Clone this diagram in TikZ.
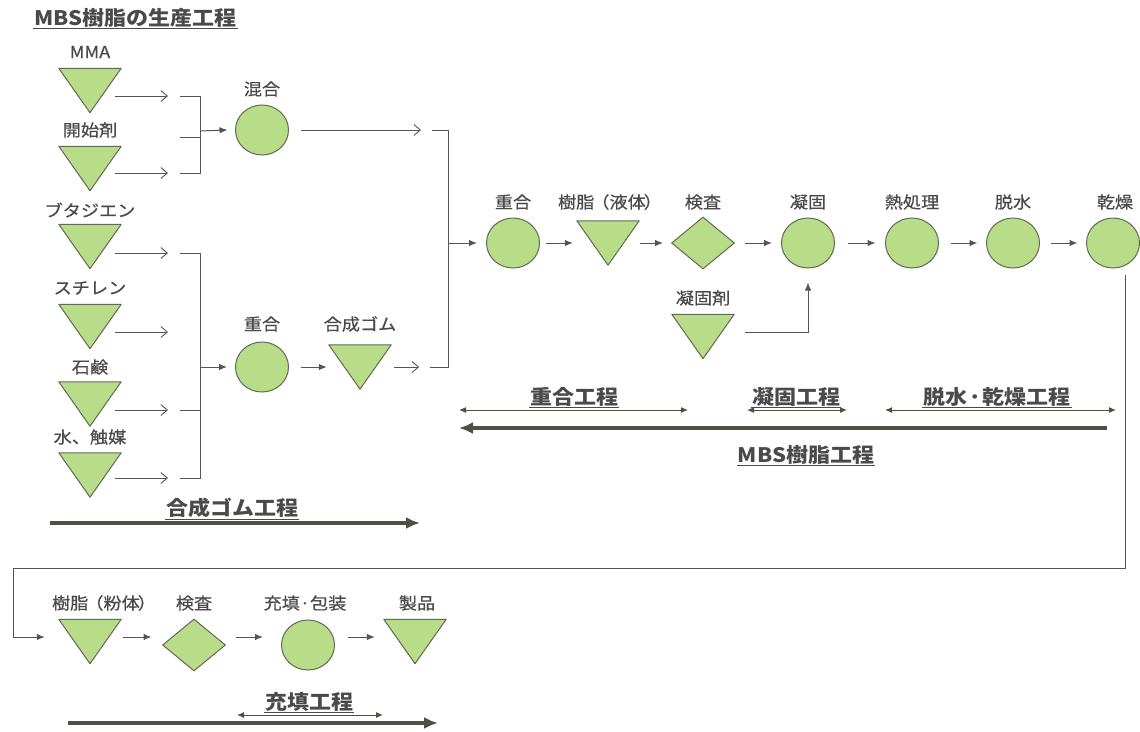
\documentclass[tikz,border=0pt]{standalone}
\usepackage{fontspec}
\setmainfont{Noto Sans CJK JP}[FakeStretch=1.1]
\newfontfamily\lblfont{Noto Sans CJK JP}[FakeStretch=1.1,FakeBold=0.6]
\usetikzlibrary{arrows.meta,shapes.geometric,calc}

\definecolor{fillg}{HTML}{B8DC88}
\definecolor{edgeg}{HTML}{5E6B55}
\definecolor{txt}{HTML}{4A4A4A}
\definecolor{ln}{HTML}{555555}
\definecolor{thickc}{HTML}{4B5243}

\begin{document}
\begin{tikzpicture}[x=1pt,y=-1pt,
 lbl/.style={font=\lblfont\fontsize{16.5}{18}\selectfont, text=txt, inner sep=0pt},
 proc/.style={font=\fontsize{20}{22}\selectfont\bfseries, text=txt, inner sep=1pt,
   append after command={(\tikzlastnode.south west) edge[draw=txt,line width=1.1pt] (\tikzlastnode.south east)}},
 circ/.style={ellipse, draw=edgeg, fill=fillg, line width=1pt, minimum width=53pt, minimum height=50pt, inner sep=0pt},
 dia/.style={diamond, draw=edgeg, fill=fillg, line width=1pt, minimum width=63pt, minimum height=52pt, inner sep=0pt},
 trib/.style={rectangle, minimum width=62pt, minimum height=44pt, inner sep=0pt},
 trishape/.style={draw=edgeg, fill=fillg, line width=1pt, line join=round},
 openarr/.style={draw=ln, line width=0.9pt, -{Straight Barb[length=6.5pt,width=11pt,line width=0.9pt]}},
 solidarr/.style={draw=ln, line width=1pt, -{Latex[length=8pt,width=6.5pt]}},
 plain/.style={draw=ln, line width=0.9pt},
 dbl/.style={draw=thickc, line width=1pt, {Latex[length=7pt,width=6pt]}-{Latex[length=7pt,width=6pt]}},
 fat/.style={draw=thickc, line width=3.5pt, -{Latex[length=14pt,width=12pt]}},
]
\useasboundingbox (0,0) rectangle (1140,731);

% title
\node[proc, anchor=west] (title) at (33,18) {MBS樹脂の生産工程};

% left column
\node[trib] (t1) at (90,90.5) {};  \node[lbl] (l1) at (90,52) {MMA};
\node[trib] (t2) at (90,168.5) {}; \node[lbl] (l2) at (90,130) {開始剤};
\node[trib] (t3) at (90,246.5) {}; \node[lbl] (l3) at (90,210) {ブタジエン};
\node[trib] (t4) at (90,326.5) {}; \node[lbl] (l4) at (90,288) {スチレン};
\node[trib] (t5) at (90,404) {};   \node[lbl] (l5) at (90,367) {石鹸};
\node[trib] (t6) at (90,475) {};   \node[lbl] (l6) at (90,437) {水、触媒};

\draw[openarr] ([shift={(25,5.5)}]t1.center) -- ++(53,0);
\draw[openarr] ([shift={(25,4.5)}]t2.center) -- ++(53,0);
\draw[openarr] ([shift={(25,6.5)}]t3.center) -- ++(53,0);
\draw[openarr] ([shift={(25,5.5)}]t4.center) -- ++(53,0);
\draw[openarr] ([shift={(25,6)}]t5.center) -- ++(53,0);
\draw[openarr] ([shift={(25,3)}]t6.center) -- ++(53,0);

% mixing and rubber polymerisation
\node[circ] (m) at (262,130) {};   \node[lbl] (lm) at (262,89) {混合};
\node[circ] (p1) at (262,367) {};  \node[lbl] (lp1) at (262,324) {重合};
\node[trib] (g) at (360,367) {};   \node[lbl] (lg) at (360,324) {合成ゴム};

% upper bracket
\coordinate (uTop) at (200,96);
\coordinate (uBot) at (200,173);
\coordinate (uMid) at (200,131);
\coordinate (uStub) at (180,137);
\draw[plain] ([xshift=-20pt]uTop) -- (uTop) -- (uBot) -- ([xshift=-20pt]uBot);
\draw[plain] (uStub) -- (uStub -| uTop);
\draw[solidarr] (uMid) -- ([xshift=-7.5pt]m.west);

% lower bracket
\coordinate (lTop) at (200,253);
\coordinate (lBot) at (200,478);
\coordinate (lMid) at (200,367);
\coordinate (lStub) at (180,410);
\draw[plain] ([xshift=-20pt]lTop) -- (lTop) -- (lBot) -- ([xshift=-20pt]lBot);
\draw[plain] (lStub) -- (lStub -| lTop);
\draw[solidarr] (lMid) -- ([xshift=-8pt]p1.west);
\draw[solidarr] ([xshift=11.5pt]p1.east) -- ([xshift=-2pt]g.west);

% right bracket into main line
\draw[openarr] ([xshift=12pt]m.east) -- ++(120,0);
\draw[openarr] ([xshift=3pt]g.east) -- ++(25,0);
\coordinate (rTop) at (448,130);
\coordinate (rBot) at (448,367);
\coordinate (rMid) at (448,243);
\draw[plain] ([xshift=-16pt]rTop) -- (rTop) -- (rBot) -- ([xshift=-18pt]rBot);

% main line
\node[circ] (r1) at (513,243) {};  \node[lbl] (lr1) at (513,202) {重合};
\node[trib] (r2) at (608,243) {};  \node[lbl] (lr2) at (610,202) {樹脂\kern-3pt（液体\kern-2pt）};
\node[dia]  (r3) at (703,243) {};  \node[lbl] (lr3) at (703,202) {検査};
\node[circ] (r4) at (808,243) {};  \node[lbl] (lr4) at (808,202) {凝固};
\node[circ] (r5) at (912,243) {};  \node[lbl] (lr5) at (912,202) {熱処理};
\node[circ] (r6) at (1013,243) {}; \node[lbl] (lr6) at (1013,202) {脱水};
\node[circ] (r7) at (1113,243) {}; \node[lbl] (lr7) at (1115,202) {乾燥};
\node[trib] (c) at (703,336.5) {}; \node[lbl] (lc) at (703,298) {凝固剤};

\draw[solidarr] (rMid) -- ([xshift=-9pt]r1.west);
\draw[solidarr] ([xshift=5.5pt]r1.east) -- ([xshift=-4pt]r2.west);
\draw[solidarr] ([xshift=1pt]r2.east) -- ([xshift=-8pt]r3.west);
\draw[solidarr] ([xshift=10pt]r3.east) -- ([xshift=-9pt]r4.west);
\draw[solidarr] ([xshift=13pt]r4.east) -- ([xshift=-9.5pt]r5.west);
\draw[solidarr] ([xshift=11.5pt]r5.east) -- ([xshift=-8.5pt]r6.west);
\draw[solidarr] ([xshift=10.5pt]r6.east) -- ([xshift=-8.5pt]r7.west);
\draw[solidarr] ([shift={(42,-4.5)}]c.center) -| ([yshift=-14pt]r4.south);

% process spans
\node[proc] (pq) at (574,397) {重合工程};
\node[proc] (pg) at (796,397) {凝固工程};
\node[proc] (pd) at (997,397) {脱水\kern1pt·\kern1pt乾燥工程};
\node[proc] (pm) at (806,455) {MBS樹脂工程};
\coordinate (pqL) at (459,410); \coordinate (pqR) at (688,410);
\coordinate (pgL) at (747,410); \coordinate (pgR) at (847,410);
\coordinate (pdL) at (885,410); \coordinate (pdR) at (1116,410);
\coordinate (pmR) at (1107,428); \coordinate (pmL) at (459,428);
\draw[dbl] (pqL) -- (pqR);
\draw[dbl] (pgL) -- (pgR);
\draw[dbl] (pdL) -- (pdR);
\draw[fat] (pmR) -- (pmL);

\node[proc] (pr) at (232,508) {合成ゴム工程};
\coordinate (prL) at (50,523); \coordinate (prR) at (420,523);
\draw[fat] (prL) -- (prR);

% bottom line
\node[trib] (b1) at (90,641.5) {};  \node[lbl] (lb1) at (104,603) {樹脂\kern-3pt（粉体\kern-2pt）};
\node[dia]  (b2) at (194,645) {};   \node[lbl] (lb2) at (194,603) {検査};
\node[circ] (b3) at (308,645) {};   \node[lbl] (lb3) at (305,603) {充填·包装};
\node[trib] (b4) at (415,641.5) {}; \node[lbl] (lb4) at (417,603) {製品};

\draw[solidarr] ([shift={(33,-4.5)}]b1.center) -- ([shift={(-10.5,-8)}]b2.west);
\draw[solidarr] ([shift={(9.5,-8)}]b2.east) -- ([shift={(-18,-8)}]b3.west);
\draw[solidarr] ([shift={(12.5,-8)}]b3.east) -- ([shift={(-9,-4.5)}]b4.west);

\coordinate (loopS) at (1125,275);
\coordinate (loopC) at (13,568);
\draw[solidarr] (loopS) |- (loopC) |- ([shift={(-14,-4.5)}]b1.west);

\node[proc] (pf) at (309,702) {充填工程};
\coordinate (pfL) at (237,715); \coordinate (pfR) at (383,715);
\coordinate (pxL) at (68,723); \coordinate (pxR) at (438,723);
\draw[dbl] (pfL) -- (pfR);
\draw[fat] (pxL) -- (pxR);

% triangle outlines
\foreach \n in {t1,t2,t3,t4,t5,t6,g,r2,c,b1,b4}
  \draw[trishape] (\n.north west) -- (\n.north east) -- (\n.south) -- cycle;
\end{tikzpicture}
\end{document}
